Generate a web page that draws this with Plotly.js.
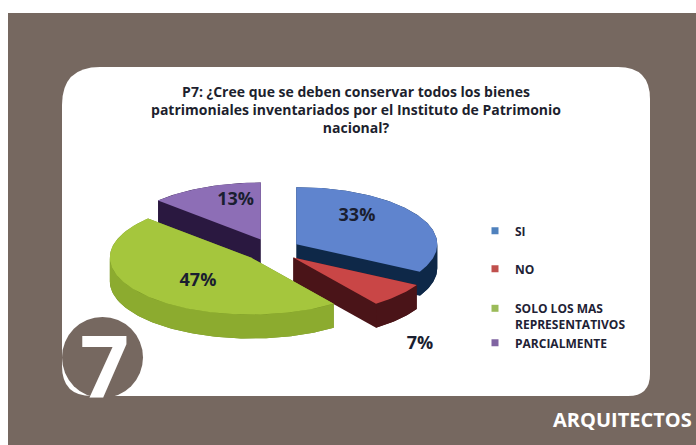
<!DOCTYPE html>
<html><head><meta charset="utf-8">
<script src="https://cdn.plot.ly/plotly-3.0.1.min.js"></script>
<style>html,body{margin:0;padding:0;background:#fff;} #chart{width:696px;height:445px;}</style>
</head><body><div id="chart"></div>
<script>
// ---- data ----
const categories = ['SI', 'NO', 'SOLO LOS MAS<br>REPRESENTATIVOS', 'PARCIALMENTE'];
const values = [33, 7, 47, 13];
const percentLabels = ['33%', '7%', '47%', '13%'];
const titleText = 'P7: ¿Cree que se deben conservar todos los bienes<br>patrimoniales inventariados por el Instituto de Patrimonio<br>nacional?';
const badgeText = '7';
const footerText = 'ARQUITECTOS';

// ---- style ----
const topColors = ['#5f84ce', '#c94646', '#a5c63d', '#8d6eb6'];
const rimColors = ['#0e2848', '#4a1418', '#8cab2f', '#2a1840'];
const cutColors = ['#0e2848', '#4a1418', '#6f8c22', '#2a1840'];
const legendColors = ['#4f81bd', '#c0504d', '#9bbb59', '#8064a2'];
const brown = '#766860';
const W = 696, H = 445;
const pie = {cx: 272, cy: 250, rx: 141, ry: 57, depth: 24, pull: 0.2};
const labelR = [0.5, 1.2, 0.5, 0.45];
const labelDy = [-13, 42, 5, -16];
const drawOrder = [3, 0, 1, 2];
const legendTextY = [231, 269, 306, 343];

function hull(pts) {
  const p = pts.slice().sort((a, b) => a[0] - b[0] || a[1] - b[1]);
  const cross = (o, a, b) => (a[0]-o[0])*(b[1]-o[1]) - (a[1]-o[1])*(b[0]-o[0]);
  const lower = [], upper = [];
  for (const q of p) { while (lower.length >= 2 && cross(lower[lower.length-2], lower[lower.length-1], q) <= 0) lower.pop(); lower.push(q); }
  for (let i = p.length - 1; i >= 0; i--) { const q = p[i]; while (upper.length >= 2 && cross(upper[upper.length-2], upper[upper.length-1], q) <= 0) upper.pop(); upper.push(q); }
  upper.pop(); lower.pop();
  return lower.concat(upper);
}

const total = values.reduce((a, b) => a + b, 0);
const slices = [];
let acc = 0;
values.forEach((v, i) => {
  const a0 = acc / total * 2 * Math.PI;
  acc += v;
  const a1 = acc / total * 2 * Math.PI;
  const mid = (a0 + a1) / 2;
  const sx = pie.cx + pie.pull * pie.rx * Math.sin(mid);
  const sy = pie.cy - pie.pull * pie.ry * Math.cos(mid);
  slices.push({a0, a1, mid, sx, sy});
});

const pt = (s, t, dz) => [s.sx + pie.rx * Math.sin(t), s.sy - pie.ry * Math.cos(t) + (dz || 0)];
function arc(s, t0, t1, dz) {
  const n = Math.max(2, Math.ceil((t1 - t0) / 0.02));
  const out = [];
  for (let k = 0; k <= n; k++) out.push(pt(s, t0 + (t1 - t0) * k / n, dz));
  return out;
}
function polyTrace(points, color) {
  return {type: 'scatter', mode: 'lines', x: points.map(p => p[0]).concat([points[0][0]]),
    y: points.map(p => p[1]).concat([points[0][1]]), fill: 'toself', fillcolor: color,
    line: {width: 0, color: color}, hoverinfo: 'skip', showlegend: false};
}

const traces = [];
drawOrder.forEach(i => {
  const s = slices[i];
  const top = [[s.sx, s.sy]].concat(arc(s, s.a0, s.a1, 0));
  const bottom = top.map(p => [p[0], p[1] + pie.depth]);
  traces.push(polyTrace(hull(top.concat(bottom)), cutColors[i]));
  const r0 = Math.max(s.a0, Math.PI / 2), r1 = Math.min(s.a1, 3 * Math.PI / 2);
  if (r1 > r0) {
    const upperArc = arc(s, r0, r1, 0);
    const lowerArc = arc(s, r0, r1, pie.depth).reverse();
    traces.push(polyTrace(upperArc.concat(lowerArc), rimColors[i]));
  }
  traces.push(polyTrace(top, topColors[i]));
});

// percentage labels
traces.push({
  type: 'scatter', mode: 'text',
  x: slices.map((s, i) => s.sx + labelR[i] * pie.rx * Math.sin(s.mid)),
  y: slices.map((s, i) => s.sy - labelR[i] * pie.ry * Math.cos(s.mid) + labelDy[i]),
  text: percentLabels, textposition: 'middle center',
  textfont: {family: 'Open Sans', size: 18, weight: 700, color: '#1a1e30'},
  hoverinfo: 'skip', showlegend: false, cliponaxis: false
});

// legend entries (one legend per item)
const legendIds = ['legend', 'legend2', 'legend3', 'legend4'];
categories.forEach((c, i) => {
  traces.push({type: 'scatter', mode: 'markers', x: [null], y: [null], name: c,
    marker: {symbol: 'square', size: 7, color: legendColors[i]},
    legend: legendIds[i], showlegend: true, hoverinfo: 'skip'});
});

const legendFont = {family: 'Open Sans', size: 12, weight: 700, color: '#1e2235'};
const layout = {
  width: W, height: H, margin: {l: 0, r: 0, t: 0, b: 0},
  paper_bgcolor: '#ffffff', plot_bgcolor: 'rgba(0,0,0,0)',
  showlegend: true, hovermode: false,
  xaxis: {range: [0, W], visible: false, fixedrange: true},
  yaxis: {range: [H, 0], visible: false, fixedrange: true},
  title: {text: titleText, x: 356 / W, xanchor: 'center', xref: 'paper',
    y: 1 - 97 / H, yanchor: 'top', yref: 'paper',
    font: {family: 'Open Sans', size: 14, weight: 700, color: '#1d1f2e'}},
  shapes: [
    {type: 'rect', xref: 'x', yref: 'y', x0: 8, x1: W, y0: 13, y1: H, fillcolor: brown, line: {width: 0}, layer: 'below'},
    {type: 'path', xref: 'x', yref: 'y', layer: 'below', fillcolor: '#ffffff', line: {width: 0},
      path: 'M 100,67 L 618,67 Q 650,67 650,99 L 650,374 Q 650,396 628,396 L 92,396 Q 62,396 62,366 L 62,105 Q 62,67 100,67 Z'},
    {type: 'circle', xref: 'x', yref: 'y', x0: 62, x1: 143, y0: 317, y1: 398, fillcolor: brown, line: {width: 0}, layer: 'below'}
  ],
  annotations: [
    {text: badgeText, xref: 'x', yref: 'y', x: 104, y: 364, xanchor: 'center', yanchor: 'middle', showarrow: false,
      font: {family: 'Open Sans', size: 86, weight: 700, color: '#ffffff'}},
    {text: footerText, xref: 'x', yref: 'y', x: 694, y: 419, xanchor: 'right', yanchor: 'middle', showarrow: false,
      font: {family: 'Open Sans', size: 20, weight: 700, color: '#ffffff'}}
  ]
};
legendIds.forEach((id, i) => {
  layout[id] = {x: 475 / W, xanchor: 'left', y: 1 - legendTextY[i] / H, yanchor: i === 2 ? 'top' : 'middle',
    bgcolor: 'rgba(0,0,0,0)', borderwidth: 0, font: legendFont, valign: 'top', itemclick: false, itemdoubleclick: false};
  if (i === 2) layout[id].y = 1 - (legendTextY[i] - 12) / H;
});

Plotly.newPlot('chart', traces, layout, {displayModeBar: false, staticPlot: true});
</script>
</body></html>
